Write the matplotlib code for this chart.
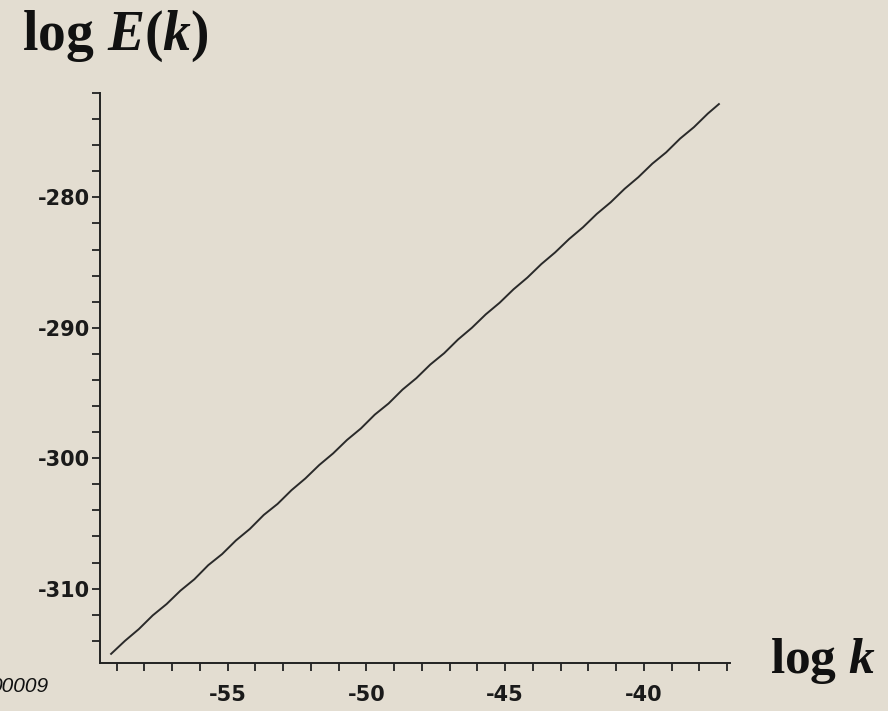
import matplotlib
matplotlib.use("Agg")
from matplotlib import pyplot as plt
from matplotlib.ticker import MultipleLocator

# log k vs log E(k)
log_k = [-59.2, -58.7, -58.2, -57.7, -57.2, -56.7, -56.2, -55.7, -55.2, -54.7,
         -54.2, -53.7, -53.2, -52.7, -52.2, -51.7, -51.2, -50.7, -50.2, -49.7,
         -49.2, -48.7, -48.2, -47.7, -47.2, -46.7, -46.2, -45.7, -45.2, -44.7,
         -44.2, -43.7, -43.2, -42.7, -42.2, -41.7, -41.2, -40.7, -40.2, -39.7,
         -39.2, -38.7, -38.2, -37.7, -37.3]
log_E = [-315.00, -314.00, -313.10, -312.05, -311.18, -310.15, -309.28, -308.20, -307.35, -306.30,
         -305.42, -304.35, -303.50, -302.45, -301.55, -300.52, -299.63, -298.60, -297.72, -296.66,
         -295.80, -294.74, -293.86, -292.82, -291.95, -290.90, -290.00, -288.97, -288.08, -287.05,
         -286.15, -285.12, -284.22, -283.20, -282.30, -281.27, -280.38, -279.35, -278.45, -277.42,
         -276.55, -275.50, -274.62, -273.58, -272.85]

bg = "#e3ddd1"
plt.rcParams['axes.unicode_minus'] = False
plt.rcParams['mathtext.fontset'] = 'custom'
plt.rcParams['mathtext.rm'] = 'Liberation Serif:bold'
plt.rcParams['mathtext.it'] = 'Liberation Serif:italic:bold'

fig = plt.figure(figsize=(8.88, 7.11), dpi=100, facecolor=bg)
ax = fig.add_axes([100 / 888, 48 / 711, 630 / 888, 570 / 711])
ax.set_facecolor(bg)

ax.plot(log_k, log_E, color="#2a2a2a", lw=1.4)

ax.set_xlim(-59.6, -36.9)
ax.set_ylim(-315.7, -272)
ax.spines['top'].set_visible(False)
ax.spines['right'].set_visible(False)
for s in ('left', 'bottom'):
    ax.spines[s].set_linewidth(1.4)
    ax.spines[s].set_color("#222222")

ax.xaxis.set_major_locator(MultipleLocator(5))
ax.xaxis.set_minor_locator(MultipleLocator(1))
ax.yaxis.set_major_locator(MultipleLocator(10))
ax.yaxis.set_minor_locator(MultipleLocator(2))
ax.tick_params(which='both', direction='out', length=6, width=1.3, color="#222222")
ax.tick_params(axis='x', which='major', pad=10)
ax.tick_params(axis='y', which='major', pad=1)
for lab in ax.get_xticklabels() + ax.get_yticklabels():
    lab.set_fontfamily('DejaVu Sans')
    lab.set_fontweight('bold')
    lab.set_fontsize(15)
    lab.set_color("#1a1a1a")

fig.text(22 / 888, 1 - 50 / 711, r'$\log\,E(k)$', fontsize=40, color="#111111",
         ha='left', va='baseline')
fig.text(770 / 888, (711 - 673) / 711, r'$\log\,k$', fontsize=37, color="#111111",
         ha='left', va='baseline')
fig.text(48 / 888, (711 - 692) / 711, '00009', fontsize=15, style='italic',
         family='Liberation Sans', color="#111111", ha='right', va='baseline')

fig.savefig("out.png", dpi=100, facecolor=bg)
